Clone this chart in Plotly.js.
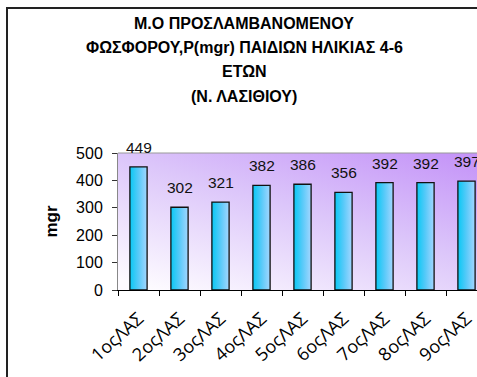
<!DOCTYPE html>
<html>
<head>
<meta charset="utf-8">
<script src="https://cdn.plot.ly/plotly-3.0.1.min.js"></script>
<style>
  html, body { margin:0; padding:0; width:477px; height:377px; overflow:hidden; background:#fff; }
  #frame { position:absolute; left:6px; top:7px; width:600px; height:600px; border:2px solid #222; box-sizing:border-box; }
  #chart { position:absolute; left:0; top:0; }
</style>
</head>
<body>
<div id="frame"></div>
<div id="chart"></div>
<script>
const categories = ["1οςΛΑΣ","2οςΛΑΣ","3οςΛΑΣ","4οςΛΑΣ","5οςΛΑΣ","6οςΛΑΣ","7οςΛΑΣ","8οςΛΑΣ","9οςΛΑΣ"];
const values = [449, 302, 321, 382, 386, 356, 392, 392, 397];
const titleLines = ["Μ.Ο ΠΡΟΣΛΑΜΒΑΝΟΜΕΝΟΥ", "ΦΩΣΦΟΡΟΥ,P(mgr) ΠΑΙΔΙΩΝ ΗΛΙΚΙΑΣ 4-6", "ΕΤΩΝ", "(Ν. ΛΑΣΙΘΙΟΥ)"];
const yTitle = "mgr";

const W = 500, H = 377;
const L = 118, R = W - 487, T = 153, B = H - 290;
const plotH = H - T - B;
const plotW = W - L - R;

const titleYpx = [23, 48, 72, 96];
const titleXpx = 244;

const annotations = [];
titleLines.forEach((t, i) => {
  annotations.push({
    text: '<b>' + t + '</b>', xref: 'paper', yref: 'paper',
    x: (titleXpx - L) / plotW, y: (H - B - titleYpx[i]) / plotH,
    xanchor: 'center', yanchor: 'middle', showarrow: false,
    font: {family: 'Liberation Sans, Arial, sans-serif', size: 16, color: '#000'}
  });
});
categories.forEach((c, i) => {
  annotations.push({
    text: String(values[i]), x: c, y: values[i], xref: 'x', yref: 'y',
    xanchor: 'center', yanchor: 'bottom', yshift: 9, showarrow: false,
    font: {family: 'Liberation Sans, Arial, sans-serif', size: 15.5, color: '#111'}
  });
});

const trace = {
  type: 'bar', x: categories, y: values, width: 0.42,
  marker: {color: '#5cd0f8', line: {color: '#111', width: 1.3}},
  hoverinfo: 'none'
};

const layout = {
  width: W, height: H,
  margin: {l: L, r: R, t: T, b: B, pad: 0},
  paper_bgcolor: 'rgba(0,0,0,0)',
  plot_bgcolor: '#e6d8fb',
  showlegend: false,
  xaxis: {
    type: 'category', tickangle: -42, tickson: 'boundaries',
    ticks: 'outside', ticklen: 5, tickcolor: '#000', tickwidth: 1,
    showline: true, linecolor: '#000', linewidth: 1.2,
    showgrid: false, zeroline: false,
    ticklabelstandoff: 10,
    tickfont: {family: 'Open Sans, DejaVu Sans, sans-serif', size: 18, color: '#000'},
    range: [-0.5, 8.5]
  },
  yaxis: {
    range: [0, 500], dtick: 100, tick0: 0,
    ticks: 'outside', ticklen: 5, tickcolor: '#333', tickwidth: 1,
    showline: true, linecolor: '#888', linewidth: 1, mirror: true,
    showgrid: false, zeroline: false,
    ticklabelstandoff: 6,
    tickfont: {family: 'Liberation Sans, Arial, sans-serif', size: 16, color: '#000'},
    title: {text: '<b>' + yTitle + '</b>', standoff: 14, font: {family: 'Liberation Sans, Arial, sans-serif', size: 17, color: '#000'}}
  },
  shapes: [{type: 'line', xref: 'paper', yref: 'paper', x0: 0, x1: 1, y0: 1, y1: 1, line: {color: '#999', width: 1}}],
  annotations: annotations
};

Plotly.newPlot('chart', [trace], layout, {displayModeBar: false, staticPlot: true}).then(gd => {
  const svg = gd.querySelector('svg.main-svg');
  const NS = 'http://www.w3.org/2000/svg';
  let defs = svg.querySelector('defs');
  if (!defs) { defs = document.createElementNS(NS, 'defs'); svg.insertBefore(defs, svg.firstChild); }
  function grad(id, x1, y1, x2, y2, stops) {
    const g = document.createElementNS(NS, 'linearGradient');
    g.setAttribute('id', id);
    g.setAttribute('x1', x1); g.setAttribute('y1', y1);
    g.setAttribute('x2', x2); g.setAttribute('y2', y2);
    stops.forEach(([o, c]) => {
      const s = document.createElementNS(NS, 'stop');
      s.setAttribute('offset', o); s.setAttribute('stop-color', c);
      g.appendChild(s);
    });
    defs.appendChild(g);
  }
  grad('bgGrad', '0.9', '0', '0.1', '1', [['0', '#c595f8'], ['0.45', '#dcc6fa'], ['1', '#fdfbff']]);
  grad('barGrad', '0', '0', '1', '0', [['0', '#08c8f4'], ['0.5', '#58caf9'], ['1', '#a4d6ff']]);
  gd.querySelectorAll('.bglayer rect.bg').forEach(r => { r.style.fill = 'url(#bgGrad)'; });
  gd.querySelectorAll('.barlayer .point path').forEach(p => { p.style.fill = 'url(#barGrad)'; });
});
</script>
</body>
</html>
